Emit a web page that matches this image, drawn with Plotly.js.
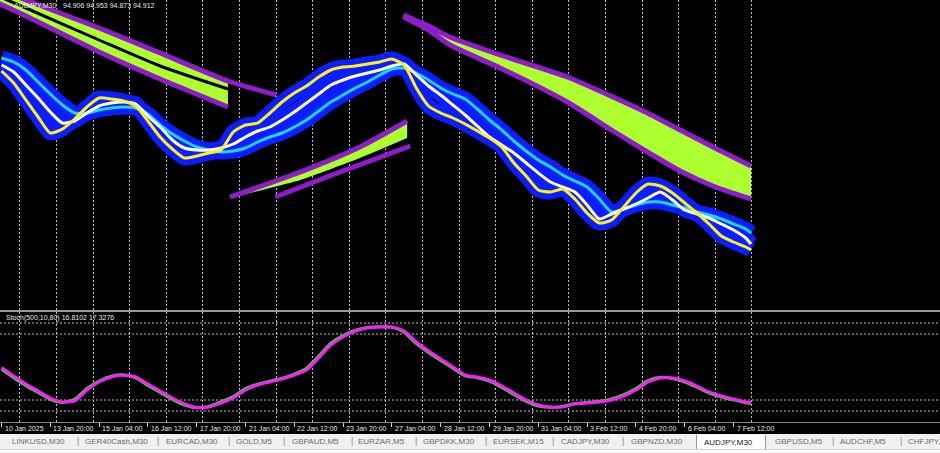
<!DOCTYPE html>
<html>
<head>
<meta charset="utf-8">
<script src="https://cdn.plot.ly/plotly-3.0.1.min.js"></script>
<style>
html,body{margin:0;padding:0;background:#000;width:940px;height:453px;overflow:hidden;font-family:"Liberation Sans",Arial,sans-serif;}
#chart{position:absolute;left:0;top:0;width:940px;height:434px;}
#tabs{position:absolute;left:0;top:434px;width:940px;height:15px;background:#f0f0f0;}
#tabfoot{position:absolute;left:0;top:449px;width:940px;height:4px;background:#fafafa;border-top:1px solid #d8d8d8;}
.tab{position:absolute;top:0;height:15px;line-height:15px;font-size:8px;color:#6b6b6b;white-space:nowrap;}
.sep{position:absolute;top:0;height:15px;line-height:15px;font-size:9px;color:#8a8a8a;}
.active{position:absolute;top:1px;height:15px;background:#fff;border:1px solid #9a9a9a;border-top:none;box-sizing:border-box;}
</style>
</head>
<body>
<div id="chart"></div>
<div id="tabs"></div>
<div id="tabfoot"></div>
<script>
// ---------- DATA ----------
const symbolText = "AUDJPY,M30";
const ohlcText = "94.906 94.953 94.873 94.912";
const stochText = "Stoch(500,10,80) 16.8102 17.3276";

// time axis labels (bar index of M30 bars, starting 10 Jan 2025 12:00)
const labelBars = [0,64,128,192,256,320,384,448,512,576,640,704,768,832,896,960];
const labelText = ["10 Jan 2025","13 Jan 20:00","15 Jan 04:00","16 Jan 12:00","17 Jan 20:00","21 Jan 04:00","22 Jan 12:00","23 Jan 20:00","27 Jan 04:00","28 Jan 12:00","29 Jan 20:00","31 Jan 04:00","3 Feb 12:00","4 Feb 20:00","6 Feb 04:00","7 Feb 12:00"];

// moving averages (price) sampled on bar index
const maX = [0,16,32,48,64,80,96,112,128,144,160,176,192,208,224,240,256,272,288,304,320,336,352,368,384,400,416,432,448,464,480,496,512,528,544,560,576,592,608,624,640,656,672,688,704,720,736,752,768,784,800,816,832,848,864,880,896,912,928,944,960,976,983];
const maYellow = [98.28,98.04,97.70,97.36,97.04,97.12,97.32,97.56,97.74,97.72,
  97.68,97.58,97.28,96.96,96.72,96.54,96.58,96.64,96.70,97.06,
  97.20,97.24,97.44,97.66,97.84,97.98,98.16,98.30,98.36,98.38,
  98.42,98.46,98.52,98.40,97.94,97.58,97.44,97.34,97.22,97.08,
  96.94,96.76,96.44,96.18,95.90,95.86,95.92,95.72,95.44,95.24,
  95.30,95.56,95.84,96.02,95.98,95.84,95.64,95.44,95.22,94.98,
  94.86,94.76,94.70];
const maWhite = [98.40,98.26,98.00,97.74,97.46,97.24,97.28,97.44,97.58,97.64,
  97.66,97.62,97.38,97.16,96.90,96.74,96.70,96.70,96.74,96.82,
  96.96,97.08,97.16,97.30,97.46,97.64,97.82,98.00,98.10,98.18,
  98.24,98.30,98.38,98.42,98.20,97.98,97.80,97.60,97.40,97.18,
  96.96,96.80,96.64,96.44,96.24,96.06,95.96,95.86,95.60,95.32,
  95.42,95.52,95.62,95.74,95.86,95.70,95.50,95.42,95.34,95.22,
  95.10,94.94,94.82];
const maCyan = [98.54,98.46,98.30,98.06,97.82,97.60,97.44,97.44,97.50,97.54,
  97.56,97.54,97.42,97.20,97.02,96.88,96.76,96.70,96.66,96.68,
  96.74,96.86,96.96,97.04,97.16,97.30,97.48,97.66,97.80,97.94,
  98.06,98.20,98.32,98.34,98.24,98.10,97.94,97.82,97.72,97.52,
  97.30,97.10,96.88,96.68,96.50,96.36,96.20,96.08,95.96,95.72,
  95.46,95.52,95.60,95.66,95.66,95.60,95.54,95.46,95.40,95.32,
  95.22,95.12,95.04];

// channel 1 (descending, top-left)
const ch1X     = [-8,32,128,208,297,361];
const ch1Upper = [99.94,99.70,99.14,98.64,98.08,97.80];
const ch1Lower = [99.66,99.38,98.66,98.12,97.56];
const ch1Mid   = [99.80,99.54,98.90,98.38,97.92];
// channel 2 (ascending wedge)
const ch2X     = [300,392,470,532];
const ch2Upper = [95.76,96.26,96.76,97.28];
const ch2Lower = [95.74,96.10,96.54,96.94];
const ch2OuterX = [359,430,536];
const ch2Outer  = [95.76,96.18,96.78];
// channel 3 (descending, right)
const ch3X     = [527,560,588,654,742,802,847,890,933,983];
const ch3Upper = [99.40,99.18,98.96,98.60,98.16,97.76,97.44,97.10,96.76,96.38];
const ch3Lower = [99.36,99.10,98.80,98.34,97.66,97.08,96.66,96.28,95.98,95.72];

// stochastic (500,10,80)
const stochMain   = [48.0,40.3,33.0,26.8,20.6,17.8,20.5,30.5,37.3,41.6,
  42.8,40.2,33.2,26.9,20.6,15.4,12.9,14.2,18.6,23.2,
  30.3,34.4,37.1,39.9,43.6,49.0,60.0,71.6,78.5,83.4,
  85.9,86.5,86.0,81.6,71.2,63.2,56.0,48.8,42.0,40.3,
  37.2,31.4,25.0,18.8,14.6,13.3,14.2,16.9,17.8,18.9,
  21.0,24.8,30.5,37.6,40.6,39.6,36.3,31.6,26.2,22.7,
  20.1,17.5,16.81];
const stochSignal = [49.5,41.8,34.5,28.2,21.8,18.2,19.1,29.1,36.4,40.9,
  42.7,40.9,34.5,28.2,21.8,16.4,13.2,13.6,17.3,21.8,
  29.1,33.6,36.4,39.1,42.7,47.3,58.2,70.0,77.3,82.7,
  85.5,86.4,86.4,82.7,72.7,64.5,57.3,50.0,42.7,40.9,
  38.2,32.7,26.4,20.0,15.5,13.6,13.6,16.4,17.3,18.2,
  20.0,23.6,29.1,36.4,40.0,40.0,37.3,32.7,27.3,23.6,
  20.9,18.2,17.33];
const stochLevels = [10,20,80,90];

// terminal tabs
const tabNames = ["LINKUSD,M30","GER40Cash,M30","EURCAD,M30","GOLD,M5","GBPAUD,M5","EURZAR,M5","GBPDKK,M30","EURSEK,M15","CADJPY,M30","GBPNZD,M30","AUDJPY,M30","GBPUSD,M5","AUDCHF,M5","CHFJPY,M30"];
const activeTab = "AUDJPY,M30";

// ---------- LAYOUT / STYLE ----------
const tabLeft = [12,85,166,236,292,358,423,493,561,631,704,775,840,908];
const sepLeft = [77,157,228,283,351,415,485,552,622,832,900];

const LIME = '#adff2f', PURPLE = '#8e1cc9', BLUE = '#0a1eff';
const GRID = '#bdbdbd';
const PLOT_H = 422;              // plot area height in px
const SEP_PX = 311;              // separator between panels
const mainDom = [(PLOT_H - SEP_PX) / PLOT_H, 1];
const subDom  = [0, (PLOT_H - 312) / PLOT_H];

const gridBars = [];
for (let d = 24; d <= 984; d += 48) gridBars.push(d);

function line(x, y, color, width, extra) {
  return Object.assign({x, y, type:'scatter', mode:'lines', hoverinfo:'skip',
    line:{color, width, shape:'spline', smoothing:0.6}, xaxis:'x', yaxis:'y'}, extra || {});
}
function band(x, lo, hi) {
  return [
    {x, y:lo, type:'scatter', mode:'lines', line:{width:0, color:LIME, shape:'spline', smoothing:0.4}, hoverinfo:'skip', xaxis:'x', yaxis:'y'},
    {x, y:hi, type:'scatter', mode:'lines', line:{width:0, color:LIME, shape:'spline', smoothing:0.4}, fill:'tonexty', fillcolor:LIME, hoverinfo:'skip', xaxis:'x', yaxis:'y'}
  ];
}

const traces = [];
// channel 1
traces.push(...band(ch1X.slice(0, ch1Lower.length), ch1Lower, ch1Upper.slice(0, ch1Lower.length)));
traces.push(line(ch1X.slice(0, ch1Mid.length), ch1Mid, '#000000', 3));
traces.push(line(ch1X, ch1Upper, PURPLE, 5));
traces.push(line(ch1X.slice(0, ch1Lower.length), ch1Lower, PURPLE, 5));
// channel 2
traces.push(...band(ch2X, ch2Lower, ch2Upper));
traces.push(line(ch2X, ch2Upper, PURPLE, 5));
traces.push(line(ch2OuterX, ch2Outer, PURPLE, 5));
// channel 3
traces.push(...band(ch3X, ch3Lower, ch3Upper));
traces.push(line(ch3X, ch3Upper, PURPLE, 5));
traces.push(line(ch3X, ch3Lower, PURPLE, 5));
// MA ribbon: blue halo then coloured cores
[maCyan, maWhite, maYellow].forEach(s => traces.push(line(maX, s, BLUE, 15)));
traces.push(line(maX, maCyan, '#19d7ff', 3));
traces.push(line(maX, maWhite, '#ffffff', 3));
traces.push(line(maX, maYellow, '#ffee22', 3));
// stochastic
traces.push(line(maX, stochMain, '#32d232', 3, {yaxis:'y2'}));
traces.push(line(maX, stochSignal, '#ff1aff', 3, {yaxis:'y2'}));

const annotations = labelBars.map((b, i) => ({
  x: b, xref:'x', y:0, yref:'paper', xanchor:'left', yanchor:'top', xshift:1, yshift:-1,
  text: labelText[i], showarrow:false, font:{family:'Liberation Sans, Arial', size:7, color:'#e6e6e6'}
}));
annotations.push({x:12/940, xref:'paper', y:1, yref:'paper', xanchor:'left', yanchor:'top', yshift:0,
  text:symbolText, showarrow:false, font:{family:'Liberation Sans, Arial', size:7, color:'#e6e6e6'}});
annotations.push({x:61/940, xref:'paper', y:1, yref:'paper', xanchor:'left', yanchor:'top', yshift:0,
  text:ohlcText, showarrow:false, font:{family:'Liberation Sans, Arial', size:7, color:'#e6e6e6'}});
annotations.push({x:4/940, xref:'paper', y:(PLOT_H - 318) / PLOT_H, yref:'paper', xanchor:'left', yanchor:'middle',
  text:stochText, showarrow:false, font:{family:'Liberation Sans, Arial', size:7, color:'#e6e6e6'}});

const shapes = stochLevels.map(v => ({type:'line', xref:'paper', x0:0, x1:1, yref:'y2', y0:v, y1:v,
  line:{color:GRID, width:1, dash:'2px,2px'}, layer:'below'}));
shapes.push({type:'line', xref:'paper', x0:0, x1:1, yref:'paper', y0:mainDom[0], y1:mainDom[0],
  line:{color:'#9a9a9a', width:2}});

const layout = {
  width:940, height:434,
  margin:{l:0, r:0, t:0, b:12, pad:0},
  paper_bgcolor:'#000', plot_bgcolor:'#000',
  showlegend:false,
  xaxis:{range:[-1.967, 1230.82], anchor:'y2', fixedrange:true,
    tickmode:'array', tickvals:labelBars, showticklabels:false,
    ticks:'outside', ticklen:4, tickcolor:'#cfcfcf', tickwidth:1,
    showgrid:false, zeroline:false, showline:true, linecolor:'#8a8a8a', linewidth:1,
    minor:{tickmode:'array', tickvals:gridBars, showgrid:true, gridcolor:GRID, gridwidth:1, griddash:'2px,2px', ticks:''}},
  yaxis:{domain:mainDom, range:[93.48, 99.70], showgrid:false, zeroline:false, showticklabels:false, fixedrange:true},
  yaxis2:{domain:subDom, range:[0, 100], showgrid:false, zeroline:false, showticklabels:false, fixedrange:true},
  annotations, shapes
};

Plotly.newPlot('chart', traces, layout, {staticPlot:true, displayModeBar:false});

// tab bar
const tabs = document.getElementById('tabs');
tabNames.forEach((name, i) => {
  if (name === activeTab) {
    const box = document.createElement('div');
    box.className = 'active';
    box.style.left = (tabLeft[i] - 8) + 'px';
    box.style.width = '70px';
    tabs.appendChild(box);
  }
  const s = document.createElement('div');
  s.className = 'tab';
  s.style.left = tabLeft[i] + 'px';
  if (name === activeTab) { s.style.color = '#1a1a1a'; s.style.top = '1px'; }
  s.textContent = name;
  tabs.appendChild(s);
});
sepLeft.forEach(x => {
  const s = document.createElement('div');
  s.className = 'sep';
  s.style.left = x + 'px';
  s.textContent = '|';
  tabs.appendChild(s);
});
</script>
</body>
</html>
